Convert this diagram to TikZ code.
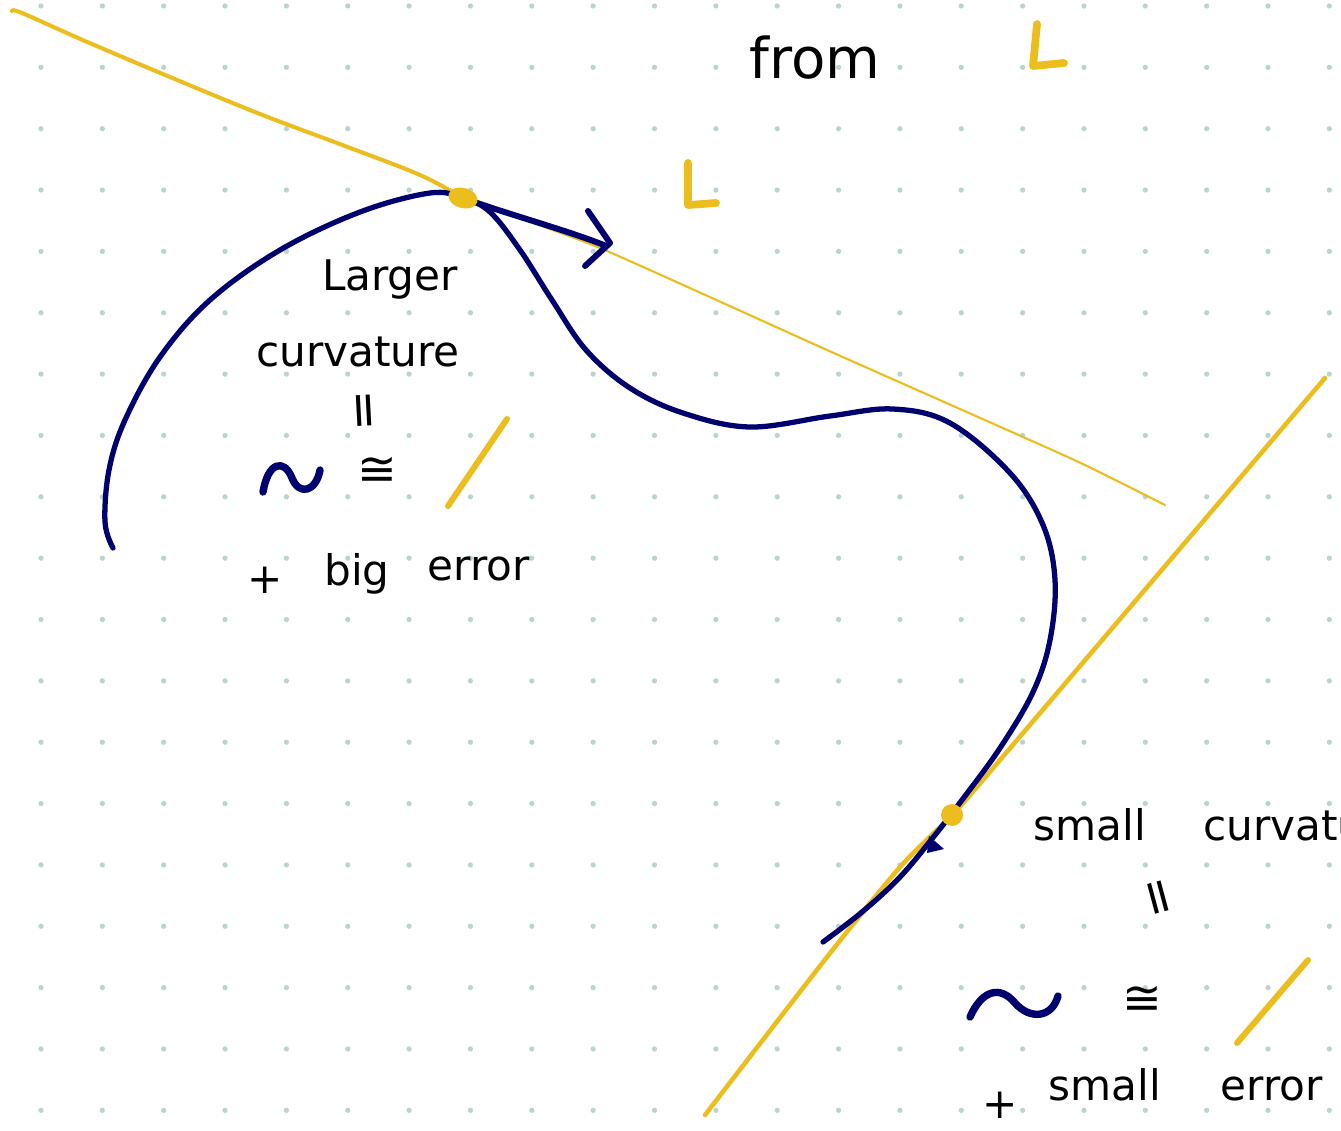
\documentclass[tikz,border=0pt]{standalone}
\usepackage{fontspec}
\setmainfont{DejaVu Sans}
\definecolor{inkblue}{RGB}{0,0,110}
\definecolor{inkyellow}{RGB}{235,190,30}
\definecolor{griddot}{RGB}{188,210,212}
\begin{document}
\begin{tikzpicture}[x=0.02cm,y=-0.02cm,line cap=round,line join=round,
  bluecurve/.style={draw=inkblue,line width=3.0pt},
  bluemark/.style={draw=inkblue,line width=4.2pt},
  yellowthick/.style={draw=inkyellow,line width=2.3pt},
  yellowthin/.style={draw=inkyellow,line width=1.2pt},
  yellowmark/.style={draw=inkyellow,line width=4.4pt},
  yellowsym/.style={draw=inkyellow,line width=3.4pt},
  hand/.style={text=black,inner sep=0pt,font=\fontsize{24}{28}\selectfont},
  bighand/.style={text=black,inner sep=0pt,font=\fontsize{32}{36}\selectfont},
  eqsym/.style={text=black,inner sep=0pt,font=\fontsize{27}{30}\selectfont},
  barsym/.style={text=black,inner sep=0pt,font=\fontsize{28}{30}\selectfont}]
\useasboundingbox (0,0) rectangle (1341,1130);
\clip (0,0) rectangle (1341,1130);
\fill[white] (0,0) rectangle (1341,1130);
% dot grid
\foreach \i in {0,...,21}{\foreach \j in {0,...,18}{
  \fill[griddot] ({41+61.35*\i},{6+61.35*\j}) circle[radius=1.5pt];}}
% named points
\coordinate (tA) at (463,198);
\coordinate (tB) at (952,815);
% upper tangent line
\draw[yellowthick] plot[smooth,tension=0.6] coordinates {(12,11) (22,13) (85,41) (170,77) (260,114) (345,146) (420,175) (tA)};
\draw[yellowthin] plot[smooth,tension=0.3] coordinates {(tA) (600,248) (827,350) (1070,458) (1165,505)};
% lower tangent line
\draw[yellowthick,line width=2.6pt] plot[smooth,tension=0.4] coordinates {(705,1115) (827,957) (900,867) (tB) (1000,760) (1325,378)};
% main blue curve
\draw[bluecurve] plot[smooth,tension=0.6] coordinates {(113,548) (105,522) (109,470) (125,420) (160,357) (210,300) (280,250) (360,212) (430,193) (tA) (490,212) (520,250) (552,300) (586,350) (630,388) (683,413) (750,427) (830,416) (893,409) (950,423) (1010,473) (1043,525) (1055,580) (1050,640) (1033,692) (1000,748) (962,800) (935,835) (900,877) (862,912) (823,942)};
% small barb near lower tangent point
\fill[inkblue] (929,836) -- (944,849) -- (927,853) -- cycle;
% tangent arrow at upper point
\coordinate (arrTip) at (604,245);
\draw[bluemark,line width=3.4pt] (tA) .. controls (510,215) and (560,228) .. (arrTip);
\draw[bluemark,line width=3.4pt] (588,211) -- (610,243) -- (585,266);
% tangent point dots
\fill[inkyellow,rotate around={-15:(tA)}] (tA) ellipse[x radius=15,y radius=10];
\fill[inkyellow] (tB) circle[radius=11];
% yellow L marks
\draw[yellowmark] (688,163) -- (688,205) -- (716,203);
\draw[yellowmark] (1037,24) -- (1033,66) -- (1064,63);
% top text
\node[bighand] (from) at (815,58) {from};
% upper-left annotation
\node[hand] (larger) at (390,280) {Larger};
\node[hand] (curvA) at (358,352) {curvature};
\node[barsym,rotate=93] (eqA) at (368,410) {=};
\draw[bluemark] (263,492) .. controls (268,462) and (284,458) .. (292,478) .. controls (299,496) and (316,492) .. (320,470);
\node[eqsym] (congA) at (377,471) {≅};
\draw[yellowsym] (448,506) -- (507,419);
\node[hand] (plusA) at (265,580) {+};
\node[hand,anchor=base] (bigA) at (357,585) {big};
\node[hand,anchor=base] (errA) at (479,580) {error};
% lower-right annotation
\node[hand] (smallB) at (1090,825) {small};
\node[hand,anchor=west] (curvB) at (1203,826) {curvature};
\node[barsym,rotate=105] (eqB) at (1162,896) {=};
\draw[bluemark] (970,1017) .. controls (982,990) and (1000,985) .. (1015,1003) .. controls (1030,1020) and (1052,1018) .. (1058,996);
\node[eqsym] (congB) at (1142,1000) {≅};
\draw[yellowsym] (1237,1043) -- (1308,960);
\node[hand] (plusB) at (1000,1105) {+};
\node[hand,anchor=base] (smallC) at (1105,1100) {small};
\node[hand,anchor=base] (errB) at (1272,1100) {error};
\end{tikzpicture}
\end{document}
